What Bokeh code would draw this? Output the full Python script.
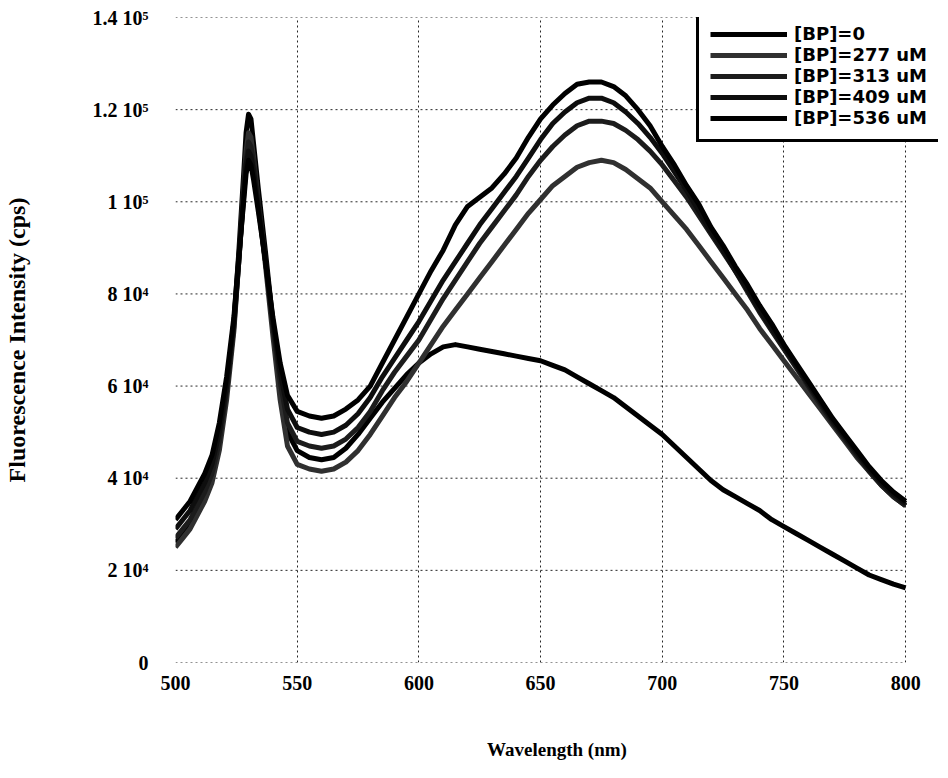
from bokeh.plotting import figure
from bokeh.models import FixedTicker, Legend, LegendItem
from bokeh.embed import file_html
from bokeh.resources import INLINE

wavelength = [500, 503, 506, 509, 512, 515, 518, 521, 524, 526, 528, 529, 530, 531, 532, 534, 537, 540, 543, 546, 550,
              555, 560, 565, 570, 575, 580, 585, 590, 595, 600, 605, 610, 615, 620, 625, 630, 635, 640, 645, 650,
              655, 660, 665, 670, 675, 680, 685, 690, 695, 700, 705, 710, 715, 720, 725, 730, 735, 740, 745, 750,
              755, 760, 765, 770, 775, 780, 785, 790, 795, 800]

bp_0 = [26000, 28000, 30000, 33000, 36000, 40000, 48000, 59000, 74000, 89000, 106000, 115000, 119000, 118000, 113000, 103000, 89000, 74000, 60000, 50000, 46000,
        44500, 44000, 44500, 46500, 49500, 53000, 56500, 59500, 62500, 65000, 67000, 68500, 69000, 68500, 68000, 67500, 67000, 66500, 66000, 65500,
        64500, 63500, 62000, 60500, 59000, 57500, 55500, 53500, 51500, 49500, 47000, 44500, 42000, 39500, 37500, 36000, 34500, 33000, 31000, 29500,
        28000, 26500, 25000, 23500, 22000, 20500, 19000, 18000, 17000, 16200]

bp_277 = [25000, 27000, 29000, 32000, 35000, 39000, 46000, 57000, 72000, 87000, 103000, 111000, 115000, 114000, 110000, 100000, 86000, 71000, 57000, 47000, 43000,
          42000, 41500, 42000, 43500, 46000, 49500, 53500, 57500, 61000, 65000, 69000, 73000, 76500, 80000, 83500, 87000, 90500, 94000, 97500, 100500,
          103500, 105500, 107500, 108500, 109000, 108500, 107000, 105000, 103000, 100000, 97000, 94000, 90500, 87000, 83500, 80000, 76500, 72500, 69000, 65500,
          62000, 58500, 55000, 51500, 48000, 44500, 41500, 38500, 36000, 34000]

bp_313 = [27000, 29000, 31000, 34000, 37000, 41000, 48000, 59000, 73000, 87000, 102000, 109000, 113000, 112000, 109000, 100000, 87000, 73000, 61000, 52000, 48000,
          47000, 46500, 47000, 48500, 51000, 54500, 59000, 63000, 66500, 70000, 74500, 79000, 83000, 87000, 91000, 94500, 98000, 101500, 105500, 109000,
          112000, 114500, 116500, 117500, 117500, 117000, 115500, 113500, 111000, 108000, 104500, 101000, 97000, 93000, 89000, 85000, 80500, 76000, 72000, 68000,
          64000, 60000, 56000, 52000, 48500, 45000, 41500, 38500, 36000, 34000]

bp_409 = [29000, 31000, 33000, 36000, 39000, 43000, 50000, 60000, 74000, 87000, 101000, 108000, 111000, 110000, 107000, 99000, 87000, 74000, 63000, 55000, 51000,
          50000, 49500, 50000, 51500, 54000, 57500, 62000, 66000, 70000, 74000, 78500, 83000, 87000, 91000, 95000, 98500, 102000, 105500, 109500, 113500,
          117000, 119500, 121500, 122500, 122500, 121500, 119500, 117000, 114000, 110500, 106500, 102500, 98000, 93500, 89500, 85000, 81000, 76500, 72500, 68500,
          64500, 60500, 56500, 52500, 49000, 45500, 42000, 39000, 36500, 34500]

bp_536 = [31000, 33000, 35000, 38000, 41000, 45000, 52000, 62000, 75000, 88000, 100000, 106000, 109000, 108000, 105000, 98000, 87000, 75000, 65000, 58000, 54500,
          53500, 53000, 53500, 55000, 57000, 60000, 65000, 70000, 75000, 80000, 85000, 89500, 95000, 99000, 101000, 103000, 106000, 109500, 114000, 118000,
          121000, 123500, 125500, 126000, 126000, 125000, 123000, 120000, 116500, 112000, 108000, 103500, 99500, 94500, 90500, 86000, 82000, 77500, 73500, 69000,
          65000, 61000, 57000, 53000, 49500, 46000, 42500, 39500, 37000, 35000]

series_labels = ["[BP]=0", "[BP]=277 uM", "[BP]=313 uM", "[BP]=409 uM", "[BP]=536 uM"]
series_values = [bp_0, bp_277, bp_313, bp_409, bp_536]
series_colors = ["#000000", "#303030", "#1c1c1c", "#0e0e0e", "#000000"]

y_ticks = [0, 20000, 40000, 60000, 80000, 100000, 120000, 140000]
y_tick_labels = ["0", "2 10\u2074", "4 10\u2074", "6 10\u2074", "8 10\u2074", "1 10\u2075", "1.2 10\u2075", "1.4 10\u2075"]
x_ticks = [500, 550, 600, 650, 700, 750, 800]
x_min, x_max = 500, 800

# frame is widened to the right so the legend (which overhangs the plot box in the reference) is not clipped
p = figure(width=940, height=762, x_range=(500, 813.5), y_range=(0, 140000),
           output_backend="svg", toolbar_location=None,
           min_border_left=174, min_border_right=2, min_border_top=17, min_border_bottom=100)

p.background_fill_color = "white"
p.border_fill_color = "white"
p.outline_line_color = None

serif = "Liberation Serif"

p.xaxis.ticker = FixedTicker(ticks=x_ticks)
p.yaxis.ticker = FixedTicker(ticks=y_ticks)
p.yaxis.major_label_overrides = {t: l for t, l in zip(y_ticks, y_tick_labels)}
p.xaxis.major_label_overrides = {t: str(t) for t in x_ticks}

for ax in (p.xaxis, p.yaxis):
    ax.axis_line_color = None
    ax.major_tick_line_color = None
    ax.minor_tick_line_color = None
    ax.major_tick_out = 0
    ax.major_tick_in = 0
    ax.major_label_text_font = serif
    ax.major_label_text_font_style = "bold"
    ax.major_label_text_font_size = "20px"
    ax.major_label_text_color = "black"
    ax.axis_label_text_font = serif
    ax.axis_label_text_font_style = "bold"
    ax.axis_label_text_color = "black"

# axis bounds set so that the x title sits where it does in the reference
p.xaxis.bounds = (491, 800)
p.xaxis.major_label_standoff = 13
p.xaxis.axis_label = "Wavelength (nm)"
p.xaxis.axis_label_text_font_size = "19px"
p.xaxis.axis_label_standoff = 46

p.yaxis.axis_label = "Fluorescence Intensity (cps)"
p.yaxis.axis_label_text_font_size = "24px"
p.yaxis.major_label_standoff = 27
p.yaxis.axis_label_standoff = 60

# dotted grid / plot box limited to the data box 500..800
p.xgrid.grid_line_color = "black"
p.xgrid.grid_line_dash = "2 3"
p.xgrid.grid_line_width = 1
p.xgrid.grid_line_alpha = 0.85
p.ygrid.visible = False
p.segment(x0=[x_min] * len(y_ticks), x1=[x_max] * len(y_ticks), y0=y_ticks, y1=y_ticks,
          line_color="black", line_dash="2 3", line_width=1, line_alpha=0.85)

items = []
for label, vals, col in zip(series_labels, series_values, series_colors):
    r = p.line(wavelength, vals, line_color=col, line_width=5, line_join="round")
    items.append(LegendItem(label=label, renderers=[r]))

legend = Legend(items=items, location=(521, 520))
legend.label_text_font = "DejaVu Sans"
legend.label_text_font_style = "bold"
legend.label_text_font_size = "18px"
legend.label_text_color = "black"
legend.glyph_width = 77
legend.glyph_height = 18
legend.label_height = 18
legend.label_standoff = 7
legend.spacing = 0
legend.padding = 11
legend.margin = 0
legend.border_line_color = "black"
legend.border_line_alpha = 1
legend.border_line_width = 3
legend.background_fill_color = "white"
legend.background_fill_alpha = 1
p.add_layout(legend)

open("out.html", "w").write(file_html(p, INLINE))
